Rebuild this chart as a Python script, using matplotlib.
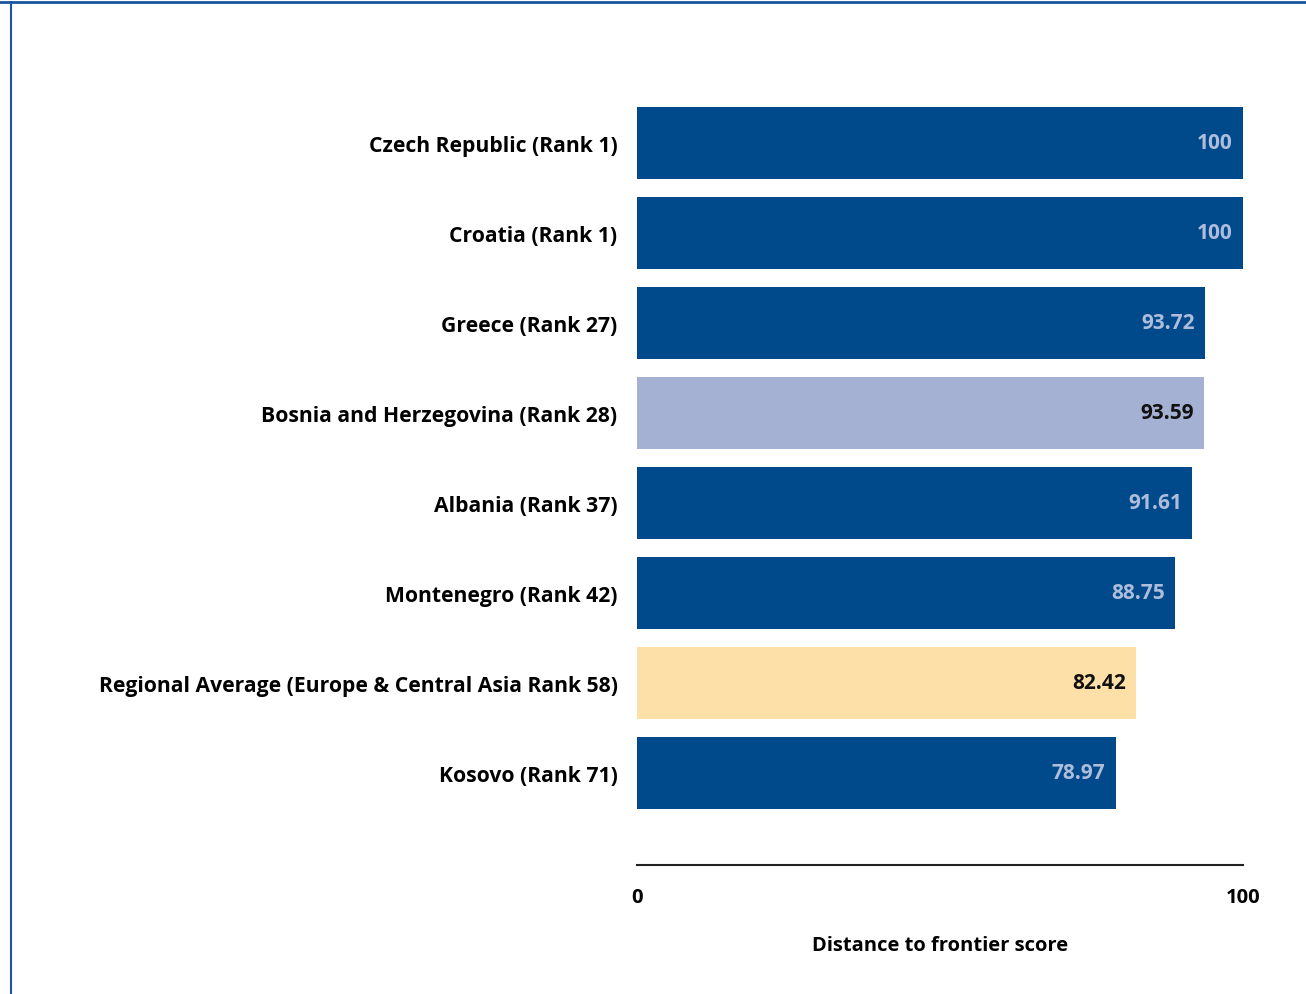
import matplotlib.pyplot as plt
from matplotlib.lines import Line2D

plt.rcParams['font.family'] = ['Open Sans', 'DejaVu Sans']

countries = [
    'Czech Republic (Rank 1)',
    'Croatia (Rank 1)',
    'Greece (Rank 27)',
    'Bosnia and Herzegovina (Rank 28)',
    'Albania (Rank 37)',
    'Montenegro (Rank 42)',
    'Regional Average (Europe & Central Asia Rank 58)',
    'Kosovo (Rank 71)',
]
scores = [100, 100, 93.72, 93.59, 91.61, 88.75, 82.42, 78.97]
score_text = ['100', '100', '93.72', '93.59', '91.61', '88.75', '82.42', '78.97']

dark = '#004a8c'
colors = [dark, dark, dark, '#a5b1d3', dark, dark, '#fddfa8', dark]
label_colors = ['#aebddb', '#aebddb', '#aebddb', '#111111',
                '#aebddb', '#aebddb', '#111111', '#aebddb']

fig = plt.figure(figsize=(13.06, 9.95), dpi=100)
ax = fig.add_axes([637 / 1306, 1 - 866 / 995, 606 / 1306, (866 - 54) / 995])

y = list(range(len(countries)))
ax.barh(y, scores, height=0.8, color=colors)
ax.set_xlim(0, 100)
ax.set_ylim(8.022, -1.0)

for i, (v, t) in enumerate(zip(scores, score_text)):
    ax.text(v - 1.7, i - 0.01, t, ha='right', va='center', fontsize=15,
            fontweight='bold', color=label_colors[i])

ax.set_yticks(y)
ax.set_yticklabels(countries, fontsize=15.2, fontweight='bold')
ax.tick_params(axis='y', length=0, pad=14)
ax.set_xticks([0, 100])
ax.set_xticklabels(['0', '100'], fontsize=14.5, fontweight='bold')
ax.tick_params(axis='x', length=0, pad=16)
ax.set_xlabel('Distance to frontier score', fontsize=14.5, fontweight='bold',
              labelpad=20)

for s in ['top', 'right', 'left']:
    ax.spines[s].set_visible(False)
ax.spines['bottom'].set_linewidth(1.5)
ax.spines['bottom'].set_color('#222222')

# page frame lines
fig.add_artist(Line2D([0, 1], [1 - 3 / 995, 1 - 3 / 995], color='#1a56a0',
                      lw=2, transform=fig.transFigure))
fig.add_artist(Line2D([11 / 1306, 11 / 1306], [0, 1 - 3 / 995], color='#1a56a0',
                      lw=1.5, transform=fig.transFigure))

fig.savefig('out.png', dpi=100)
